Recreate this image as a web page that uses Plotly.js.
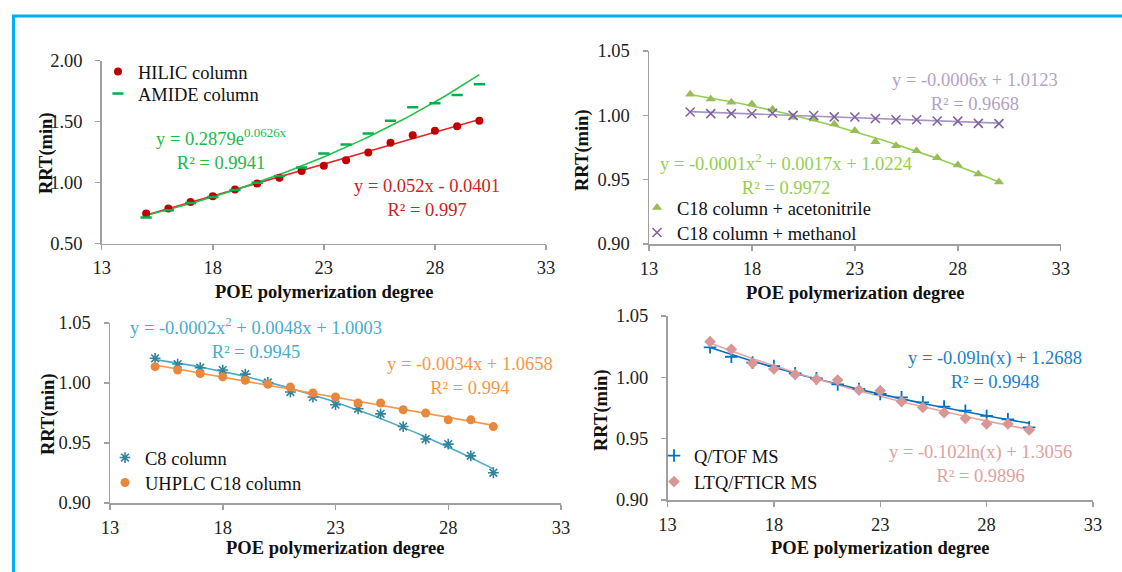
<!DOCTYPE html>
<html><head><meta charset="utf-8">
<script src="https://cdn.plot.ly/plotly-3.0.1.min.js"></script>
<style>html,body{margin:0;padding:0;background:#fff}#chart{width:1122px;height:572px}</style>
</head><body><div id="chart"></div>
<script>
// ---------- data ----------
const degree = [15,16,17,18,19,20,21,22,23,24,25,26,27,28,29,30];
const xTicks = [13,18,23,28,33];

const hilicRRT = [0.746,0.787,0.841,0.888,0.943,0.993,1.039,1.094,1.137,1.184,1.247,1.326,1.389,1.425,1.463,1.507];
const amideRRT = [0.713,0.773,0.833,0.882,0.938,0.998,1.053,1.124,1.239,1.313,1.403,1.507,1.617,1.650,1.718,1.806];

const c18AcnRRT = [1.0163,1.0127,1.0101,1.0088,1.0047,0.9985,0.9972,0.9933,0.9881,0.9795,0.9764,0.9725,0.9671,0.9614,0.9544,0.9482];
const c18MeohRRT = [1.0026,1.0013,1.0013,1.0012,1.0016,1.0000,0.9999,0.9988,0.9987,0.9975,0.9966,0.9966,0.9956,0.9955,0.9937,0.9936];

const c8RRT = [1.0206,1.0158,1.0127,1.0108,1.0074,1.0004,0.9925,0.9883,0.9819,0.9785,0.9743,0.9637,0.9533,0.9491,0.9393,0.9252];
const uhplcRRT = [1.0136,1.0108,1.0079,1.0051,1.0023,0.9990,0.9967,0.9917,0.9883,0.9833,0.9833,0.9777,0.9749,0.9693,0.9693,0.9637];

const qtofRRT = [1.0245,1.0168,1.0120,1.0092,1.0033,0.9992,0.9943,0.9905,0.9864,0.9837,0.9796,0.9761,0.9728,0.9685,0.9658,0.9592];
const ltqRRT = [1.0291,1.0228,1.0114,1.0068,1.0024,0.9984,0.9978,0.9897,0.9891,0.9802,0.9755,0.9712,0.9666,0.9620,0.9620,0.9571];

const seriesNames = ["HILIC column","AMIDE column","C18 column + acetonitrile","C18 column + methanol",
                     "C8 column","UHPLC C18 column","Q/TOF MS","LTQ/FTICR MS"];
const equations = ["y = 0.052x - 0.0401<br>R² = 0.997","y = 0.2879e<sup>0.0626x</sup><br>R² = 0.9941",
                   "y = -0.0001x<sup>2</sup> + 0.0017x + 1.0224<br>R² = 0.9972","y = -0.0006x + 1.0123<br>R² = 0.9668",
                   "y = -0.0002x<sup>2</sup> + 0.0048x + 1.0003<br>R² = 0.9945","y = -0.0034x + 1.0658<br>R² = 0.994",
                   "y = -0.09ln(x) + 1.2688<br>R² = 0.9948","y = -0.102ln(x) + 1.3056<br>R² = 0.9896"];
const xTitle = "POE polymerization degree";
const yTitle = "RRT(min)";

// ---------- trendline fitting (least squares, like the spreadsheet trendlines) ----------
function linFit(xs, ys){
  const n=xs.length; let sx=0,sy=0,sxx=0,sxy=0;
  for(let i=0;i<n;i++){sx+=xs[i];sy+=ys[i];sxx+=xs[i]*xs[i];sxy+=xs[i]*ys[i];}
  const b=(n*sxy-sx*sy)/(n*sxx-sx*sx); const a=(sy-b*sx)/n; return [a,b];
}
function polyFit2(xs, ys){
  let s=[0,0,0,0,0], t=[0,0,0];
  for(let i=0;i<xs.length;i++){let p=1;for(let k=0;k<5;k++){s[k]+=p;if(k<3)t[k]+=p*ys[i];p*=xs[i];}}
  const M=[[s[0],s[1],s[2],t[0]],[s[1],s[2],s[3],t[1]],[s[2],s[3],s[4],t[2]]];
  for(let i=0;i<3;i++){for(let j=i+1;j<3;j++){const f=M[j][i]/M[i][i];for(let k=i;k<4;k++)M[j][k]-=f*M[i][k];}}
  const c=[0,0,0];
  for(let i=2;i>=0;i--){let v=M[i][3];for(let k=i+1;k<3;k++)v-=M[i][k]*c[k];c[i]=v/M[i][i];}
  return c;
}
const xMin = Math.min(...degree), xMax = Math.max(...degree);
const curveX = []; for(let v=xMin; v<=xMax+1e-9; v+=0.25) curveX.push(v);
function linearCurve(ys){const [a,b]=linFit(degree,ys);return curveX.map(x=>a+b*x);}
function expCurve(ys){const [a,b]=linFit(degree,ys.map(Math.log));return curveX.map(x=>Math.exp(a+b*x));}
function polyCurve(ys){const c=polyFit2(degree,ys);return curveX.map(x=>c[0]+c[1]*x+c[2]*x*x);}
function logCurve(ys){const [a,b]=linFit(degree.map(Math.log),ys);return curveX.map(x=>a+b*Math.log(x));}

// ---------- styling ----------
const W=1122, H=572;
const FONT="'Liberation Serif', 'Times New Roman', Times, serif";
const FS=18.5;
const AX="#a0a0a0";
const px=(x)=>x/W, py=(y)=>1-y/H;

function xaxis(d0,d1,anchor){
  return {domain:[px(d0),px(d1)],range:[13,33],tickvals:xTicks,ticktext:xTicks.map(String),anchor:anchor,
    showline:true,linecolor:AX,linewidth:1.5,ticks:"outside",ticklen:5,tickcolor:AX,tickwidth:1.5,
    showgrid:false,zeroline:false,ticklabelstandoff:2,tickfont:{family:FONT,size:FS,color:"#222"},fixedrange:true};
}
function yaxis(top,bottom,range,dtick,anchor){
  return {domain:[py(bottom),py(top)],range:range,tick0:range[0],dtick:dtick,tickformat:".2f",anchor:anchor,
    showline:true,linecolor:AX,linewidth:1.5,ticks:"outside",ticklen:5,tickcolor:AX,tickwidth:1.5,
    showgrid:false,zeroline:false,ticklabelstandoff:9,tickfont:{family:FONT,size:FS,color:"#222"},fixedrange:true};
}

function markers(y,name,xa,ya,legend,marker){
  return {x:degree,y:y,name:name,type:"scatter",mode:"markers",xaxis:xa,yaxis:ya,legend:legend,marker:marker,hoverinfo:"skip"};
}
function trend(y,xa,ya,color){
  return {x:curveX,y:y,type:"scatter",mode:"lines",xaxis:xa,yaxis:ya,showlegend:false,line:{color:color,width:1.6},hoverinfo:"skip"};
}

const data = [
  trend(linearCurve(hilicRRT),"x","y","#e0282a"),
  trend(expCurve(amideRRT),"x","y","#25c04c"),
  markers(hilicRRT,seriesNames[0],"x","y","legend",{symbol:"circle",size:8,color:"#c00000"}),
  markers(amideRRT,seriesNames[1],"x","y","legend2",{symbol:"line-ew",size:8,color:"#00b050",line:{color:"#00b050",width:2.5}}),

  trend(polyCurve(c18AcnRRT),"x2","y2","#92d050"),
  trend(linearCurve(c18MeohRRT),"x2","y2","#a696c8"),
  markers(c18AcnRRT,seriesNames[2],"x2","y2","legend3",{symbol:"triangle-up",size:9,color:"#9bbb59"}),
  markers(c18MeohRRT,seriesNames[3],"x2","y2","legend4",{symbol:"x-thin",size:9,color:"#8064a2",line:{color:"#8064a2",width:1.6}}),

  trend(polyCurve(c8RRT),"x3","y3","#4bacc6"),
  trend(linearCurve(uhplcRRT),"x3","y3","#f79646"),
  markers(c8RRT,seriesNames[4],"x3","y3","legend5",{symbol:"asterisk",size:9,color:"#31849b",line:{color:"#31849b",width:1.6}}),
  markers(uhplcRRT,seriesNames[5],"x3","y3","legend6",{symbol:"circle",size:9,color:"#e8883c"}),

  trend(logCurve(qtofRRT),"x4","y4","#0070c0"),
  trend(logCurve(ltqRRT),"x4","y4","#e6a3a3"),
  markers(qtofRRT,seriesNames[6],"x4","y4","legend7",{symbol:"cross-thin",size:9,color:"#0070c0",line:{color:"#0070c0",width:1.8}}),
  markers(ltqRRT,seriesNames[7],"x4","y4","legend8",{symbol:"diamond",size:9,color:"#d99694"})
];

function legendAt(left,cy){
  return {x:px(left),y:py(cy),xanchor:"left",yanchor:"middle",bgcolor:"rgba(0,0,0,0)",borderwidth:0,
    font:{family:FONT,size:FS,color:"#111"},itemwidth:30};
}
function eq(text,cx,cy,color){
  return {text:text,x:px(cx),y:py(cy),xref:"paper",yref:"paper",xanchor:"center",yanchor:"middle",showarrow:false,
    align:"center",font:{family:FONT,size:FS,color:color}};
}
function xt(cx,cy){
  return {text:"<b>"+xTitle+"</b>",x:px(cx),y:py(cy),xref:"paper",yref:"paper",xanchor:"center",yanchor:"middle",showarrow:false,
    font:{family:FONT,size:FS,color:"#111"}};
}
function yt(cx,cy){
  return {text:"<b>"+yTitle+"</b>",x:px(cx),y:py(cy),xref:"paper",yref:"paper",xanchor:"center",yanchor:"middle",showarrow:false,
    textangle:-90,font:{family:FONT,size:FS,color:"#111"}};
}

const layout = {
  width:W,height:H,margin:{l:0,r:0,t:0,b:0},paper_bgcolor:"#fff",plot_bgcolor:"rgba(0,0,0,0)",
  font:{family:FONT},
  xaxis:xaxis(101.7,546,"y"),   yaxis:yaxis(60.7,243.5,[0.5,2.0],0.5,"x"),
  xaxis2:xaxis(649,1060.7,"y2"), yaxis2:yaxis(51,244,[0.90,1.05],0.05,"x2"),
  xaxis3:xaxis(110,561,"y3"),   yaxis3:yaxis(323,503,[0.90,1.05],0.05,"x3"),
  xaxis4:xaxis(667.5,1093,"y4"), yaxis4:yaxis(316,500,[0.90,1.05],0.05,"x4"),
  legend:legendAt(98,72),  legend2:legendAt(98,94),
  legend3:legendAt(637,208), legend4:legendAt(637,233),
  legend5:legendAt(105,458), legend6:legendAt(105,483),
  legend7:legendAt(654,456), legend8:legendAt(654,482),
  annotations:[
    eq(equations[0],427,198,"#d42020"),
    eq(equations[1],221,149,"#22b84c"),
    eq(equations[2],786,174,"#92d050"),
    eq(equations[3],975,92,"#b3a2c7"),
    eq(equations[4],256,338,"#4bacc6"),
    eq(equations[5],470,376,"#f79646"),
    eq(equations[6],995,370,"#1a7fd0"),
    eq(equations[7],980,464,"#e0a09e"),
    xt(324,292), xt(855,293), xt(335,548), xt(880,548),
    yt(46,153), yt(582,150), yt(48,414), yt(601,410)
  ],
  shapes:[
    {type:"line",xref:"paper",yref:"paper",x0:px(12),x1:px(1122),y0:py(16),y1:py(16),line:{color:"#00b0f0",width:3}},
    {type:"line",xref:"paper",yref:"paper",x0:px(13.5),x1:px(13.5),y0:py(16),y1:py(572),line:{color:"#00b0f0",width:3}}
  ],
  showlegend:true
};

Plotly.newPlot("chart",data,layout,{staticPlot:true,displayModeBar:false});
</script></body></html>
